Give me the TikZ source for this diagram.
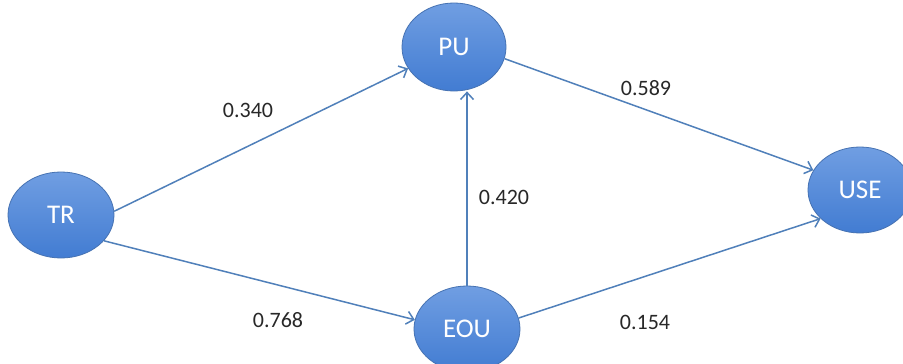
\documentclass[tikz,border=0pt]{standalone}
\usepackage{fontspec}
\setmainfont{Carlito}
\usetikzlibrary{arrows.meta,shapes.geometric}
\definecolor{nodetop}{RGB}{112,158,226}
\definecolor{nodebot}{RGB}{66,124,210}
\definecolor{nodeedge}{RGB}{70,114,178}
\definecolor{linkcol}{RGB}{80,128,186}
\definecolor{labcol}{RGB}{40,40,40}
\tikzset{
  construct/.style={ellipse, draw=nodeedge, line width=0.8pt, top color=nodetop, bottom color=nodebot,
    minimum width=106pt, minimum height=86pt, inner sep=0pt, text=white,
    font=\fontsize{27}{30}\selectfont},
  link/.style={draw=linkcol, line width=1.5pt, -{Straight Barb[length=7pt,width=13pt]}},
  coef/.style={text=labcol, font=\fontsize{22}{26}\selectfont, inner sep=0pt}
}
\begin{document}
\begin{tikzpicture}[x=1pt,y=-1pt]
\useasboundingbox[fill=white] (0,0) rectangle (903,364);
\node[construct] (TR) at (61,215) {TR};
\node[construct, minimum height=88pt, minimum width=104pt] (PU) at (454,47) {PU};
\node[construct] (EOU) at (467,329) {EOU};
\node[construct, minimum width=104pt] (USE) at (860,190) {USE};
\draw[link] (TR.4) -- (PU.205);
\draw[link] (TR.-31) -- (EOU.170);
\draw[link] (PU.-13) -- (USE.157);
\draw[link] (EOU.12) -- (USE.216);
\draw[link] (EOU.north) -- (EOU.north |- PU.south);
\node[coef] (l1) at (248,110) {0.340};
\node[coef] (l2) at (646,88) {0.589};
\node[coef] (l3) at (504,197) {0.420};
\node[coef] (l4) at (278,320) {0.768};
\node[coef] (l5) at (645,322) {0.154};
\end{tikzpicture}
\end{document}
